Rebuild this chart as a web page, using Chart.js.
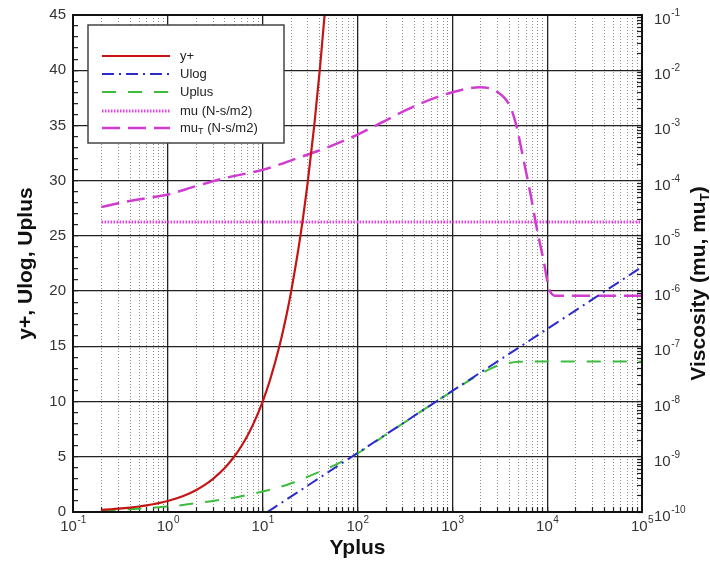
<!DOCTYPE html>
<html><head><meta charset="utf-8">
<script src="https://cdn.jsdelivr.net/npm/chart.js@4.4.0/dist/chart.umd.min.js"></script>
<style>html,body{margin:0;padding:0;background:#fff;}#wrap{width:710px;height:563px;}</style>
</head><body><div id="wrap"><canvas id="c" width="710" height="563"></canvas></div>
<script>
// ---------- data ----------
const yplusX = [0.2,0.25,0.3,0.4,0.5,0.6,0.7,0.8,1,1.2,1.5,2,2.5,3,4,5,6,7,8,10,12,15,18,20,25,30,35,40,45,50];
const yplusY = [0.2,0.25,0.3,0.4,0.5,0.6,0.7,0.8,1,1.2,1.5,2,2.5,3,4,5,6,7,8,10,12,15,18,20,25,30,35,40,45,50];

const ulogX = [11.2,20,50,100,200,500,1000,2000,5000,10000,20000,50000,100000];
const ulogY = [0,1.41,3.65,5.34,7.03,9.27,10.96,12.65,14.88,16.57,18.26,20.5,22.19];

const uplusX = [0.2,0.3,0.5,0.7,1,1.5,2,3,5,7,10,15,20,30,50,70,100,200,500,1000,1500,2000,2500,3000,4000,5000,7000,10000,100000];
const uplusY = [0.15,0.2,0.3,0.4,0.5,0.65,0.8,1.0,1.3,1.55,1.85,2.25,2.6,3.2,4.0,4.6,5.3,7.0,9.27,10.95,11.9,12.5,12.95,13.25,13.5,13.6,13.62,13.62,13.62];

const muX = [0.2,100000];
const muY = [1.79e-5,1.79e-5];

const mutX = [0.2,0.3,0.5,1,2,4.5,10,24,50,100,174,390,1000,1950,2950,4070,4760,5600,6600,7700,9100,10700,12600,100000];
const mutY = [3.35e-5,3.9e-5,4.6e-5,5.6e-5,8e-5,1.17e-4,1.57e-4,2.6e-4,4.1e-4,6.8e-4,1.1e-3,2.2e-3,4e-3,4.9e-3,4.1e-3,2.2e-3,9.5e-4,2.5e-4,6.3e-5,1.5e-5,3.8e-6,1e-6,8.2e-7,8.2e-7];

const seriesNames = ['y+','Ulog','Uplus','mu (N-s/m2)','muT (N-s/m2)'];

// ---------- axes ----------
const xDecades = [0.1,1,10,100,1000,10000,100000];
const xDecadeExp = ['-1','0','1','2','3','4','5'];
const minorMult = [2,3,4,5,6,7,8,9];
const yLeftTicks = [0,5,10,15,20,25,30,35,40,45];
const yRightDecades = [1e-10,1e-9,1e-8,1e-7,1e-6,1e-5,1e-4,1e-3,1e-2,1e-1];
const yRightExp = ['-10','-9','-8','-7','-6','-5','-4','-3','-2','-1'];

const FONT = "'Liberation Sans', Arial, Helvetica, sans-serif";
const TITLE_SIZE = 21;

function logTicks(decades) {
  const t = [];
  decades.forEach((d, i) => {
    t.push({value: d});
    if (i < decades.length - 1) minorMult.forEach(m => t.push({value: d * m}));
  });
  return t;
}
function decadeIndex(decades, v) {
  for (let i = 0; i < decades.length; i++) if (Math.abs(v / decades[i] - 1) < 1e-6) return i;
  return -1;
}
const pts = (xs, ys) => xs.map((x, i) => ({x, y: ys[i]}));

const styles = [
  {color:'#c41414', width:2.2, dash:[]},
  {color:'#2a2ad0', width:2, dash:[12,5,2,5]},
  {color:'#3cbc3c', width:2, dash:[14,12]},
  {color:'#ea40ea', width:3, dash:[1.5,1.5]},
  {color:'#d03cd0', width:2.5, dash:[18,8]}
];

const datasets = [
  {data: pts(yplusX, yplusY), yAxisID:'y'},
  {data: pts(ulogX, ulogY), yAxisID:'y'},
  {data: pts(uplusX, uplusY), yAxisID:'y'},
  {data: pts(muX, muY), yAxisID:'y2'},
  {data: pts(mutX, mutY), yAxisID:'y2'}
].map((d, i) => Object.assign(d, {
  label: seriesNames[i], borderColor: styles[i].color, backgroundColor: styles[i].color,
  borderWidth: styles[i].width, borderDash: styles[i].dash, pointRadius: 0,
  cubicInterpolationMode: 'monotone', fill: false
}));

function powerLabel(ctx, base, exp, x, y, align) {
  ctx.font = '15px ' + FONT;
  const wb = ctx.measureText(base).width;
  ctx.font = '10px ' + FONT;
  const we = ctx.measureText(exp).width;
  let x0 = align === 'center' ? x - (wb + we) / 2 : x;
  ctx.textAlign = 'left'; ctx.textBaseline = 'alphabetic';
  ctx.font = '15px ' + FONT;
  ctx.fillText(base, x0, y);
  ctx.font = '10px ' + FONT;
  ctx.fillText(exp, x0 + wb + 0.5, y - 8);
}

const overlay = {
  id: 'overlay',
  afterDatasetsDraw(chart) {
    const ctx = chart.ctx;
    ctx.save();
    ctx.fillStyle = '#fff';
    ctx.fillRect(88, 25, 196, 118);
    ctx.strokeStyle = '#444'; ctx.lineWidth = 1.5;
    ctx.strokeRect(88, 25, 196, 118);
    const rows = [56, 74, 92, 111, 128];
    rows.forEach((y, i) => {
      const ds = chart.data.datasets[i];
      ctx.beginPath();
      ctx.strokeStyle = ds.borderColor; ctx.lineWidth = ds.borderWidth;
      ctx.setLineDash(ds.borderDash);
      ctx.moveTo(102, y); ctx.lineTo(170, y); ctx.stroke();
      ctx.setLineDash([]);
      ctx.fillStyle = '#222'; ctx.textBaseline = 'middle'; ctx.textAlign = 'left';
      ctx.font = '13px ' + FONT;
      const name = seriesNames[i];
      if (name.startsWith('muT')) {
        ctx.fillText('mu', 180, y);
        let w = ctx.measureText('mu').width;
        ctx.font = '9px ' + FONT;
        ctx.fillText('T', 180 + w, y + 4);
        w += ctx.measureText('T').width;
        ctx.font = '13px ' + FONT;
        ctx.fillText(name.slice(3), 180 + w, y);
      } else {
        ctx.fillText(name, 180, y);
      }
    });
    ctx.restore();
  },
  afterDraw(chart) {
    const ctx = chart.ctx, a = chart.chartArea;
    ctx.save();
    ctx.strokeStyle = '#111'; ctx.lineWidth = 2;
    ctx.strokeRect(a.left, a.top, a.right - a.left, a.bottom - a.top);
    ctx.fillStyle = '#333';
    const xs = chart.scales.x, ys = chart.scales.y2;
    xDecades.forEach((v, i) => powerLabel(ctx, '10', xDecadeExp[i], xs.getPixelForValue(v), a.bottom + 19, 'center'));
    yRightDecades.forEach((v, i) => powerLabel(ctx, '10', yRightExp[i], a.right + 12, ys.getPixelForValue(v) + 9, 'left'));
    ctx.translate(699, (a.top + a.bottom) / 2 + 20);
    ctx.rotate(-Math.PI / 2);
    ctx.fillStyle = '#111'; ctx.textBaseline = 'middle'; ctx.textAlign = 'left';
    const big = 'bold ' + TITLE_SIZE + 'px ' + FONT, small = 'bold 13px ' + FONT;
    const parts = [['Viscosity (mu, mu', big, 0], ['T', small, 6], [')', big, 0]];
    let total = 0;
    parts.forEach(p => { ctx.font = p[1]; total += ctx.measureText(p[0]).width; });
    let x = -total / 2;
    parts.forEach(p => { ctx.font = p[1]; ctx.fillText(p[0], x, p[2]); x += ctx.measureText(p[0]).width; });
    ctx.restore();
  }
};

const tickFont = {family: FONT, size: 15};
const isMajorLeft = v => yLeftTicks.indexOf(v) >= 0;
const noPad = s => { s.paddingTop = 0; s.paddingBottom = 0; s.paddingLeft = 0; s.paddingRight = 0; };

new Chart(document.getElementById('c'), {
  type: 'line',
  data: {datasets},
  plugins: [overlay],
  options: {
    responsive: false, animation: false, devicePixelRatio: 1,
    layout: {padding: {top: 15, left: 0, right: 0, bottom: 0}},
    plugins: {legend: {display: false}, tooltip: {enabled: false}},
    scales: {
      x: {
        type: 'logarithmic', position: 'bottom', min: 0.1, max: 100000,
        afterBuildTicks: s => { s.ticks = logTicks(xDecades); },
        afterFit: s => { s.height = 51; noPad(s); },
        ticks: {autoSkip: false, maxRotation: 0, padding: 13, color: '#333', font: tickFont, callback: () => ''},
        grid: {
          color: c => decadeIndex(xDecades, c.tick.value) >= 0 ? '#222' : '#8a8a8a',
          lineWidth: c => decadeIndex(xDecades, c.tick.value) >= 0 ? 1.3 : 1,
          tickLength: -5, tickColor: '#222', tickWidth: 1.2
        },
        border: {display: true, color: '#111', width: 2,
          dash: c => (c.tick && decadeIndex(xDecades, c.tick.value) < 0) ? [1, 2] : []},
        title: {display: true, text: 'Yplus', color: '#111', font: {family: FONT, size: TITLE_SIZE, weight: 'bold'}, padding: {top: 0, bottom: 2}}
      },
      y: {
        type: 'linear', position: 'left', min: 0, max: 45,
        afterBuildTicks: s => { const t = []; for (let v = 0; v <= 45; v++) t.push({value: v}); s.ticks = t; },
        afterFit: s => { s.width = 73; noPad(s); },
        ticks: {
          autoSkip: false, padding: 12, color: '#333', font: tickFont,
          callback: v => isMajorLeft(v) ? String(v) : ''
        },
        grid: {
          color: c => isMajorLeft(c.tick.value) ? '#222' : 'rgba(0,0,0,0)',
          lineWidth: 1.3, tickLength: -5, tickColor: '#222', tickWidth: 1.2
        },
        border: {display: true, color: '#111', width: 2},
        title: {display: true, text: 'y+, Ulog, Uplus', color: '#111', font: {family: FONT, size: TITLE_SIZE, weight: 'bold'}, padding: {top: 14, bottom: 0}}
      },
      y2: {
        type: 'logarithmic', position: 'right', min: 1e-10, max: 1e-1,
        afterBuildTicks: s => { s.ticks = logTicks(yRightDecades); },
        afterFit: s => { s.width = 68; noPad(s); },
        ticks: {autoSkip: false, padding: 0, color: '#333', font: tickFont, callback: () => ''},
        grid: {drawOnChartArea: false, tickLength: -5, tickColor: '#222', tickWidth: 1.2},
        border: {display: true, color: '#111', width: 2}
      }
    }
  }
});
</script>
</body></html>
